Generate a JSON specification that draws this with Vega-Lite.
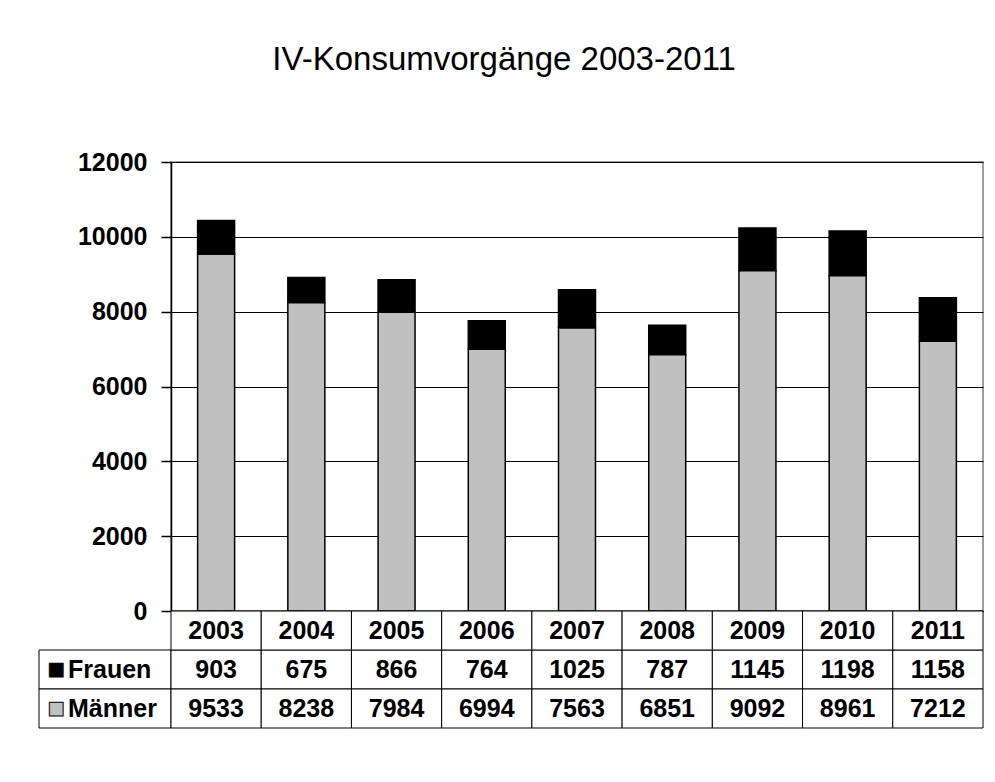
{
  "$schema": "https://vega.github.io/schema/vega-lite/v6.json",
  "background": "white",
  "padding": {"left": 38, "top": 44, "right": 0, "bottom": 0},
  "title": {"text": "IV-Konsumvorgänge 2003-2011", "font": "Liberation Sans", "fontSize": 33, "fontWeight": "normal", "color": "black", "anchor": "middle", "offset": 72, "dx": -7},
  "config": {"font": "Liberation Sans"},
  "datasets": {
    "main": [
      {"year": "2003", "sex": "Frauen", "value": 903},
      {"year": "2004", "sex": "Frauen", "value": 675},
      {"year": "2005", "sex": "Frauen", "value": 866},
      {"year": "2006", "sex": "Frauen", "value": 764},
      {"year": "2007", "sex": "Frauen", "value": 1025},
      {"year": "2008", "sex": "Frauen", "value": 787},
      {"year": "2009", "sex": "Frauen", "value": 1145},
      {"year": "2010", "sex": "Frauen", "value": 1198},
      {"year": "2011", "sex": "Frauen", "value": 1158},
      {"year": "2003", "sex": "Männer", "value": 9533},
      {"year": "2004", "sex": "Männer", "value": 8238},
      {"year": "2005", "sex": "Männer", "value": 7984},
      {"year": "2006", "sex": "Männer", "value": 6994},
      {"year": "2007", "sex": "Männer", "value": 7563},
      {"year": "2008", "sex": "Männer", "value": 6851},
      {"year": "2009", "sex": "Männer", "value": 9092},
      {"year": "2010", "sex": "Männer", "value": 8961},
      {"year": "2011", "sex": "Männer", "value": 7212}
    ]
  },
  "columns": 2,
  "spacing": 0,
  "bounds": "flush",
  "align": "each",
  "resolve": {"scale": {"color": "shared"}},
  "concat": [
    {
      "width": 132, "height": 449,
      "view": {"stroke": null},
      "data": {"values": []},
      "mark": "text",
      "encoding": {}
    },
    {
      "width": 812, "height": 449,
      "view": {"stroke": "#808080", "strokeWidth": 1.5},
      "data": {"name": "main"},
      "mark": {"type": "bar", "stroke": "black", "strokeWidth": 1.5},
      "encoding": {
        "x": {"field": "year", "type": "ordinal", "scale": {"paddingInner": 0.59, "paddingOuter": 0.295},
              "axis": {"title": null, "labels": false, "ticks": false, "domain": true, "domainColor": "black", "domainWidth": 1.5, "grid": false}},
        "y": {"field": "value", "type": "quantitative", "stack": "zero", "scale": {"domain": [0, 12000], "nice": false},
              "axis": {"values": [0, 2000, 4000, 6000, 8000, 10000, 12000], "title": null, "format": "d",
                       "labelFont": "Liberation Sans", "labelFontSize": 25, "labelFontWeight": "bold", "labelColor": "black",
                       "tickColor": "black", "tickSize": 10, "tickWidth": 1.5, "labelPadding": 14,
                       "grid": true, "gridColor": "black", "gridWidth": 1,
                       "domainColor": "black", "domainWidth": 1.5}},
        "color": {"field": "sex", "type": "nominal", "scale": {"domain": ["Frauen", "Männer"], "range": ["black", "#c0c0c0"]}, "legend": null},
        "order": {"field": "sex", "sort": "descending"}
      }
    },
    {
      "width": 132, "height": 117,
      "view": {"stroke": null},
      "data": {"name": "main"},
      "transform": [{"filter": "datum.year == '2003'"}],
      "encoding": {
        "y": {"field": "sex", "type": "nominal", "scale": {"domain": ["Jahr", "Frauen", "Männer"], "paddingInner": 0, "paddingOuter": 0}, "axis": null}
      },
      "layer": [
        {"mark": {"type": "rect", "fill": "white", "stroke": "black", "strokeWidth": 1}},
        {"mark": {"type": "text", "text": "■", "font": "DejaVu Sans", "fontSize": 18, "align": "center", "dx": -49, "stroke": "black", "strokeWidth": 1},
         "encoding": {"color": {"field": "sex", "type": "nominal", "legend": null}}},
        {"mark": {"type": "text", "font": "Liberation Sans", "fontSize": 25, "fontWeight": "bold", "align": "left", "dx": -37, "color": "black"},
         "encoding": {"text": {"field": "sex"}}}
      ]
    },
    {
      "width": 812, "height": 117,
      "view": {"stroke": null},
      "data": {"name": "main"},
      "encoding": {
        "x": {"field": "year", "type": "ordinal", "scale": {"paddingInner": 0, "paddingOuter": 0}, "axis": null}
      },
      "layer": [
        {"mark": {"type": "rect", "fill": "white", "stroke": "black", "strokeWidth": 1},
         "encoding": {"y": {"field": "sex", "type": "nominal", "scale": {"domain": ["Jahr", "Frauen", "Männer"], "paddingInner": 0, "paddingOuter": 0}, "axis": null}}},
        {"mark": {"type": "text", "font": "Liberation Sans", "fontSize": 25, "fontWeight": "bold", "color": "black"},
         "encoding": {"y": {"field": "sex", "type": "nominal"}, "text": {"field": "value", "type": "quantitative", "format": "d"}}},
        {"transform": [{"filter": "datum.sex == 'Frauen'"}],
         "mark": {"type": "rect", "fill": "white", "stroke": "black", "strokeWidth": 1},
         "encoding": {"y": {"datum": "Jahr", "type": "nominal"}}},
        {"transform": [{"filter": "datum.sex == 'Frauen'"}],
         "mark": {"type": "text", "font": "Liberation Sans", "fontSize": 25, "fontWeight": "bold", "color": "black"},
         "encoding": {"y": {"datum": "Jahr", "type": "nominal"}, "text": {"field": "year"}}}
      ]
    }
  ]
}
